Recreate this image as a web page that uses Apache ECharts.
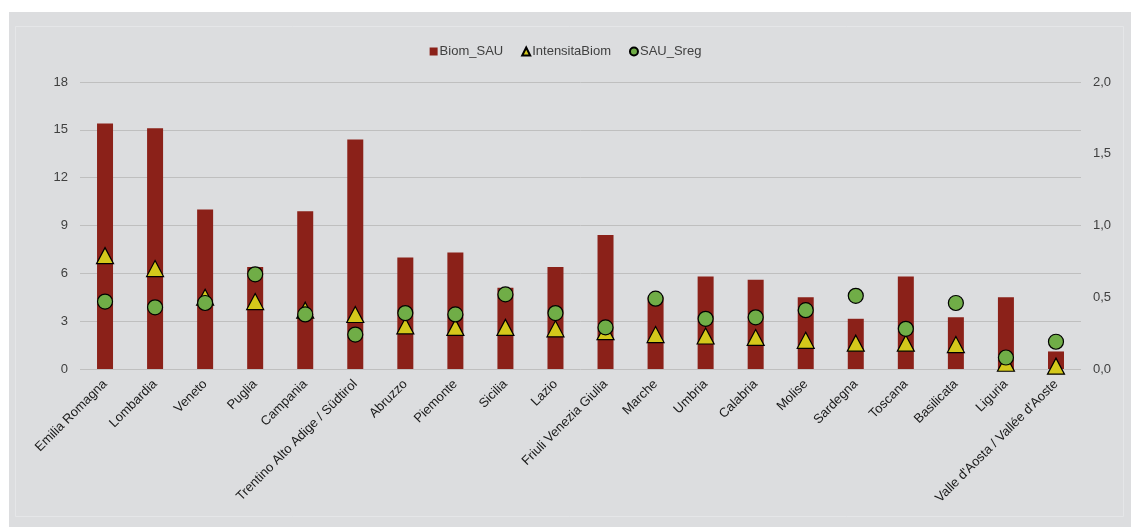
<!DOCTYPE html>
<html>
<head>
<meta charset="utf-8">
<script src="https://cdn.jsdelivr.net/npm/echarts@6/dist/echarts.min.js"></script>
<style>
html,body{margin:0;padding:0;background:#ffffff;}
#chart{width:1131px;height:527px;}
</style>
</head>
<body>
<div id="chart"></div>
<script>
const categories = ["Emilia Romagna","Lombardia","Veneto","Puglia","Campania","Trentino Alto Adige / Südtirol","Abruzzo","Piemonte","Sicilia","Lazio","Friuli Venezia Giulia","Marche","Umbria","Calabria","Molise","Sardegna","Toscana","Basilicata","Liguria","Valle d'Aosta / Vallée d'Aoste"];
const biomSAU = [15.4,15.1,10.0,6.4,9.9,14.4,7.0,7.3,5.1,6.4,8.4,4.5,5.8,5.6,4.5,3.15,5.8,3.25,4.5,1.1];
const intensitaBiom = [0.79,0.70,0.50,0.47,0.41,0.38,0.30,0.29,0.29,0.28,0.26,0.24,0.23,0.22,0.20,0.18,0.18,0.17,0.04,0.02];
const sauSreg = [0.47,0.43,0.46,0.66,0.38,0.24,0.39,0.38,0.52,0.39,0.29,0.49,0.35,0.36,0.41,0.51,0.28,0.46,0.08,0.19];
const leftTicks = {min:0,max:18,interval:3};
const rightTicks = {min:0,max:2,interval:0.5};

const chart = echarts.init(document.getElementById('chart'), null, {renderer:'canvas'});
const font = 'Liberation Sans, Arial, sans-serif';
const option = {
  backgroundColor:'#ffffff',
  animation:false,
  textStyle:{fontFamily:font},
  graphic:[
    {type:'rect', z:-10, silent:true, shape:{x:9,y:12,width:1122,height:515}, style:{fill:'#dcdddf'}},
    {type:'rect', z:-9, silent:true, shape:{x:15.5,y:26.5,width:1108,height:490}, style:{fill:'none', stroke:'#e5e6e8', lineWidth:1}}
  ],
  legend:{
    top:40, left:'center', itemWidth:8, itemHeight:8, itemGap:18,
    textStyle:{fontSize:13, color:'#404040', fontFamily:font, padding:[0,0,0,-3]},
    data:[
      {name:'Biom_SAU', icon:'rect'},
      {name:'IntensitaBiom', icon:'triangle'},
      {name:'SAU_Sreg', icon:'circle'}
    ]
  },
  grid:{left:80, right:50, top:82, bottom:158, containLabel:false},
  xAxis:{
    type:'category', data:categories,
    axisLine:{show:false}, axisTick:{show:false},
    axisLabel:{rotate:45, fontSize:13, color:'#1a1a1a', fontFamily:font, margin:13, interval:0}
  },
  yAxis:[
    {type:'value', min:leftTicks.min, max:leftTicks.max, interval:leftTicks.interval,
     axisLine:{show:false}, axisTick:{show:false},
     axisLabel:{fontSize:13, color:'#404040', margin:12, fontFamily:font},
     splitLine:{lineStyle:{color:'#bfbfbf', width:1}}},
    {type:'value', min:rightTicks.min, max:rightTicks.max, interval:rightTicks.interval,
     axisLine:{show:false}, axisTick:{show:false},
     axisLabel:{fontSize:13, color:'#404040', margin:12, fontFamily:font,
       formatter:function(v){return v.toFixed(1).replace('.',',');}},
     splitLine:{show:false}}
  ],
  series:[
    {name:'Biom_SAU', type:'bar', yAxisIndex:0, data:biomSAU, barWidth:16,
     itemStyle:{color:'#8b2119'}},
    {name:'IntensitaBiom', type:'scatter', yAxisIndex:1, data:intensitaBiom, symbol:'triangle', symbolSize:[17,16],
     itemStyle:{color:'#d4c81b', borderColor:'#000000', borderWidth:1.2, opacity:1}, z:3},
    {name:'SAU_Sreg', type:'scatter', yAxisIndex:1, data:sauSreg, symbol:'circle', symbolSize:15,
     itemStyle:{color:'#70ad47', borderColor:'#000000', borderWidth:1.2, opacity:1}, z:4}
  ]
};
chart.setOption(option);
</script>
</body>
</html>
